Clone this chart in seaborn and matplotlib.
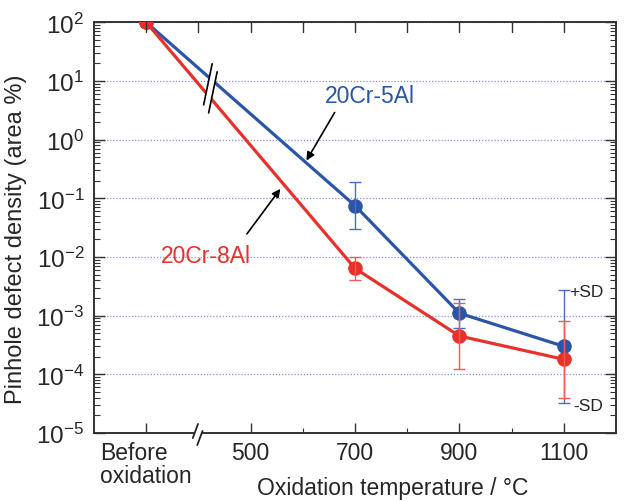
import numpy as np
import pandas as pd
import seaborn as sns
import matplotlib
matplotlib.use("Agg")
import matplotlib.pyplot as plt
from matplotlib.lines import Line2D
from matplotlib.patches import Polygon
from matplotlib.ticker import FixedLocator, LogLocator, NullFormatter, FuncFormatter

# ---------------- data ----------------
alloys = ["20Cr-5Al", "20Cr-8Al"]
temps = [300, 700, 900, 1100]          # 300 is the "Before oxidation" slot
cr5al = [100, 0.075, 0.0011, 0.00030]
cr5al_hi = [np.nan, 0.19, 0.0019, 0.0027]
cr5al_lo = [np.nan, 0.030, 0.00062, 3.3e-5]
cr8al = [100, 0.0064, 0.00045, 0.00018]
cr8al_hi = [np.nan, 0.0099, 0.00166, 0.00081]
cr8al_lo = [np.nan, 0.0041, 0.000124, 4.0e-5]
xtick_pos = [300, 500, 700, 900, 1100]
xtick_labels = ["Before\noxidation", "500", "700", "900", "1100"]
xminor_pos = [600, 800, 1000]
top_ticks = [300, 400, 500, 600, 700, 800, 900, 1000, 1100]

BLUE = "#2b56a8"
RED = "#e8312b"
BLUE_ERR = "#4a6cc4"
RED_ERR = "#f05a5a"

sns.set_theme(style="ticks")
plt.rcParams["font.family"] = ["Liberation Sans", "DejaVu Sans"]
plt.rcParams["mathtext.default"] = "regular"
plt.rcParams["axes.unicode_minus"] = False

fig = plt.figure(figsize=(6.27, 5.02), dpi=100)
W, H = 627, 502
L, R, T, B = 94.0, 616.0, 23.3, 434.0
ax = fig.add_axes([L / W, 1 - B / H, (R - L) / W, (B - T) / H])

df = pd.DataFrame({
    "temp": temps * 2,
    "density": cr5al + cr8al,
    "alloy": [alloys[0]] * len(temps) + [alloys[1]] * len(temps),
})

ax.set_yscale("log")
ax.set_ylim(1e-5, 1e2)
ax.set_xlim(200, 1200)

sns.lineplot(data=df, x="temp", y="density", hue="alloy", hue_order=alloys,
             palette={alloys[0]: BLUE, alloys[1]: RED}, marker="o",
             markersize=10.5, markeredgewidth=0, linewidth=2.3,
             legend=False, ax=ax, zorder=3)

for vals, hi, lo, col in [(cr5al, cr5al_hi, cr5al_lo, BLUE_ERR),
                          (cr8al, cr8al_hi, cr8al_lo, RED_ERR)]:
    v = np.array(vals); h = np.array(hi); l = np.array(lo)
    ax.errorbar(temps, v, yerr=[v - l, h - v], fmt="none", ecolor=col,
                elinewidth=1.0, capsize=4, capthick=1.0, zorder=3.5)

# axes styling
ax.set_xticks(xtick_pos)
ax.set_xticklabels(xtick_labels, fontsize=16.5, multialignment="left", linespacing=1.0)
ax.xaxis.set_minor_locator(FixedLocator(xminor_pos))
ax.yaxis.set_major_locator(LogLocator(base=10, numticks=20))
ax.yaxis.set_minor_locator(LogLocator(base=10, subs=np.arange(2, 10), numticks=20))
ax.yaxis.set_minor_formatter(NullFormatter())
ax.yaxis.set_major_formatter(FuncFormatter(lambda v, p: r"$10^{%d}$" % int(round(np.log10(v)))))
ax.tick_params(axis="y", which="major", direction="in", length=8, width=1.0,
               left=True, right=True, labelsize=17.5, pad=7, color="#333333")
ax.tick_params(axis="y", which="minor", direction="in", length=4, width=0.8,
               left=True, right=True, color="#333333")
ax.tick_params(axis="x", which="major", direction="in", length=7, width=1.0,
               bottom=True, top=False, pad=6, color="#333333")
ax.tick_params(axis="x", which="minor", direction="in", length=3.5, width=0.8,
               bottom=True, top=False, color="#333333")
for sp in ax.spines.values():
    sp.set_visible(True)
    sp.set_linewidth(1.4)
    sp.set_color("#333333")

# top-edge ticks (every 100 °C, including the break slot)
tick_len = 10.0 / (B - T)
for t in top_ticks:
    ax.plot([t, t], [1.0, 1.0 - tick_len], transform=ax.get_xaxis_transform(),
            color="#333333", lw=1.0, clip_on=False, zorder=4)

ax.yaxis.grid(True, which="major", color="#8f8fe0", linestyle=(0, (1, 1.5)), linewidth=0.9)
ax.set_axisbelow(True)

ax.set_xlabel("Oxidation temperature / °C", fontsize=16.5)
ax.set_ylabel("Pinhole defect density (area %)", fontsize=17)
ax.xaxis.set_label_coords((393 - L) / (R - L), (B - 477) / (B - T))
ax.yaxis.set_label_coords((27 - L) / (R - L), (B - 239) / (B - T))

# annotations
ax.text(729, 4.3, "20Cr-5Al", color=BLUE, fontsize=16.5, ha="center", va="baseline")
ax.annotate("", xy=(607, 0.44), xytext=(661, 2.9),
            arrowprops=dict(arrowstyle="-|>", color="black", lw=1.2, mutation_scale=12,
                            shrinkA=0, shrinkB=0))
ax.text(414, 0.0081, "20Cr-8Al", color=RED, fontsize=16.5, ha="center", va="baseline")
ax.annotate("", xy=(557, 0.145), xytext=(493, 0.0248),
            arrowprops=dict(arrowstyle="-|>", color="black", lw=1.2, mutation_scale=12,
                            shrinkA=0, shrinkB=0))
ax.text(1111, 0.00217, "+SD", fontsize=12.5, ha="left", va="baseline")
ax.text(1118, 2.42e-5, "-SD", fontsize=12.5, ha="left", va="baseline")

# break marks across the two lines
x_b = 423
def loginterp(x, x0, y0, x1, y1):
    return 10 ** (np.log10(y0) + (np.log10(y1) - np.log10(y0)) * (x - x0) / (x1 - x0))
yb1 = loginterp(x_b, temps[0], cr5al[0], temps[1], cr5al[1])
yb2 = loginterp(x_b, temps[0], cr8al[0], temps[1], cr8al[1])
cx, cy = ax.transData.transform((x_b, np.sqrt(yb1 * yb2)))
d = np.array([-0.203, -0.979])
half = 21
offs = [np.array([-2.5, 4.0]), np.array([2.5, -4.0])]
ends = []
for o in offs:
    c = np.array([cx, cy]) + o
    p1, p2 = c - d * half, c + d * half
    ends.append((p1, p2))
poly = Polygon([ends[0][0], ends[1][0], ends[1][1], ends[0][1]], closed=True,
               facecolor="white", edgecolor="none", transform=None, zorder=5)
fig.add_artist(poly)
for p1, p2 in ends:
    fig.add_artist(Line2D([p1[0], p2[0]], [p1[1], p2[1]], color="black", lw=1.2,
                          transform=None, zorder=6))

# break mark on the bottom axis
bx, by = ax.transData.transform((400, 1e-5))
fig.add_artist(Line2D([bx - 2.0, bx + 1.5], [by, by], color="white", lw=3,
                      transform=None, zorder=7))
d2 = np.array([0.35, 0.94])
for o in [np.array([-3.0, 2.0]), np.array([1.5, -5.0])]:
    c = np.array([bx, by]) + o
    p1, p2 = c - d2 * 7.5, c + d2 * 7.5
    fig.add_artist(Line2D([p1[0], p2[0]], [p1[1], p2[1]], color="#222222", lw=1.3,
                          transform=None, zorder=8))

fig.savefig("out.png", dpi=100)
